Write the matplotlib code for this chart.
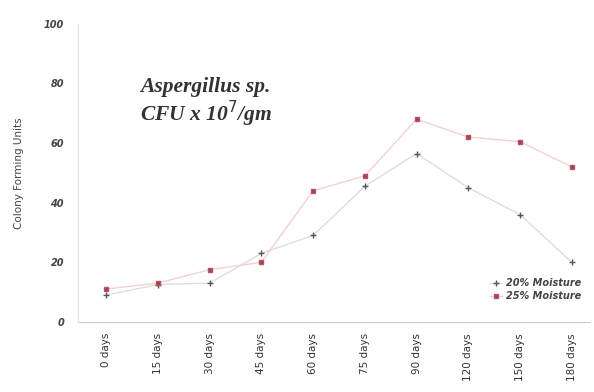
import numpy as np
from matplotlib import pyplot as plt

days = ['0 days', '15 days', '30 days', '45 days', '60 days', '75 days',
        '90 days', '120 days', '150 days', '180 days']
moist_20 = [9, 12.5, 13, 23, 29, 45.5, 56.5, 45, 36, 20]
moist_25 = [11, 13, 17.5, 20, 44, 49, 68, 62, 60.5, 52]
yticks = [0, 20, 40, 60, 80, 100]

fig = plt.figure(figsize=(5.94, 3.92), dpi=100)
ax = fig.add_axes([0.131, 0.179, 0.862, 0.76])

x = np.arange(len(days))
ax.plot(x, moist_20, color='#dddddd', lw=1.0, marker='+', ms=4,
        mec='#555555', mew=1.0, label='20% Moisture')
ax.plot(x, moist_25, color='#f4d0d4', lw=1.0, marker='s', ms=3,
        mfc='#8a4a55', mec='#c05060', label='25% Moisture')

ax.set_xlim(-0.55, 9.35)
ax.set_ylim(0, 100)
ax.set_xticks(x)
ax.set_xticklabels(days, rotation=90, fontsize=7.5, color='#333333')
ax.set_yticks(yticks)
ax.set_yticklabels([str(v) for v in yticks], fontsize=7, style='italic',
                   fontweight='bold', color='#444444')
ax.tick_params(length=0, pad=10)
ax.tick_params(axis='x', pad=8)

# removing top and right border
ax.spines['top'].set_visible(False)
ax.spines['right'].set_visible(False)
ax.spines['left'].set_color('#e4e4e4')
ax.spines['bottom'].set_color('#cfcfcf')

ax.set_ylabel('Colony Forming Units', fontsize=7.5, color='#444444', labelpad=14)

ax.text(0.65, 73.5, 'Aspergillus sp.\nCFU x 10$^7$/gm', family='Liberation Serif',
        style='italic', fontweight='bold', fontsize=15.5, color='#333333',
        ha='left', va='center', linespacing=1.05)

leg = ax.legend(loc='lower right', bbox_to_anchor=(1.0, 0.04), frameon=False,
                prop={'size': 7, 'style': 'italic', 'weight': 'bold'},
                handlelength=1.2, handletextpad=0.4, labelspacing=0.3)
for t in leg.get_texts():
    t.set_color('#444444')

fig.savefig('out.png', dpi=100)
